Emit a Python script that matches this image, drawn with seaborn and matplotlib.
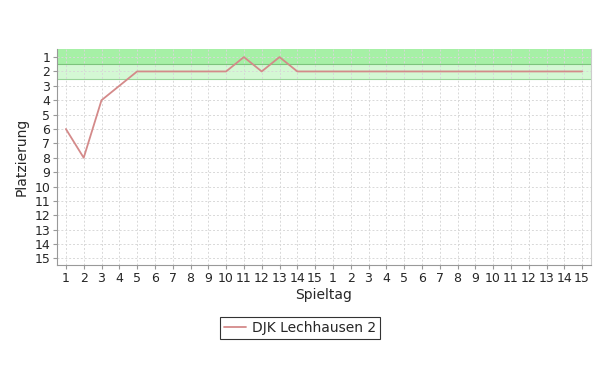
import matplotlib
matplotlib.use("Agg")
import matplotlib.pyplot as plt
import seaborn as sns
import pandas as pd

spieltag = list(range(1, 31))
tick_labels = [str(i) for i in range(1, 16)] * 2
platzierung = [6, 8, 4, 3, 2, 2, 2, 2, 2, 2, 1, 2, 1, 2, 2,
               2, 2, 2, 2, 2, 2, 2, 2, 2, 2, 2, 2, 2, 2, 2]
team = "DJK Lechhausen 2"
y_ticks = list(range(1, 16))

df = pd.DataFrame({"Spieltag": spieltag, "Platzierung": platzierung, "Team": team})

sns.set_style("white")
plt.rcParams['font.family'] = ['DejaVu Sans']

fig = plt.figure(figsize=(6, 3.84), dpi=100)
ax = fig.add_axes([0.095, 0.31, 0.89, 0.562])

# zone bands
ax.axhspan(0.4, 1.5, color="#a6f0a6", zorder=0, lw=0)
ax.axhspan(1.5, 2.5, color="#d4f8d4", zorder=0, lw=0)
ax.axhline(1.5, color="#7cc47c", lw=0.8, zorder=1)
ax.axhline(2.5, color="#9ad49a", lw=0.8, zorder=1)

sns.lineplot(data=df, x="Spieltag", y="Platzierung", hue="Team",
             palette=["#d48a8a"], lw=1.3, ax=ax, zorder=3)

ax.set_xlim(0.5, 30.5)
ax.set_ylim(15.45, 0.45)
ax.set_xticks(spieltag)
ax.set_xticklabels(tick_labels, fontsize=9)
ax.set_yticks(y_ticks)
ax.set_yticklabels([str(v) for v in y_ticks], fontsize=9)
ax.grid(True, color="#d8d8d8", linestyle=(0, (2, 2)), lw=0.7, zorder=0)
ax.set_axisbelow(True)

for s in ["top"]:
    ax.spines[s].set_visible(False)
ax.spines["left"].set_color("#999999")
ax.spines["bottom"].set_color("#999999")
ax.spines["right"].set_color("#cccccc")
ax.tick_params(axis="both", length=3, width=0.8, color="#999999", pad=2, direction="out")
ax.tick_params(axis="both", which="both", bottom=True, left=True)

ax.set_xlabel("Spieltag", fontsize=10, labelpad=2)
ax.set_ylabel("Platzierung", fontsize=10, labelpad=4)

ax.legend_.remove()
leg = fig.legend(handles=ax.get_lines()[-1:], labels=[team], loc="center",
                 bbox_to_anchor=(0.5, 0.145), frameon=True, fancybox=False,
                 fontsize=10, handlelength=1.6, borderpad=0.3, handletextpad=0.4)
leg.get_frame().set_edgecolor("black")
leg.get_frame().set_linewidth(0.8)

fig.savefig("out.png", dpi=100, facecolor="white")
